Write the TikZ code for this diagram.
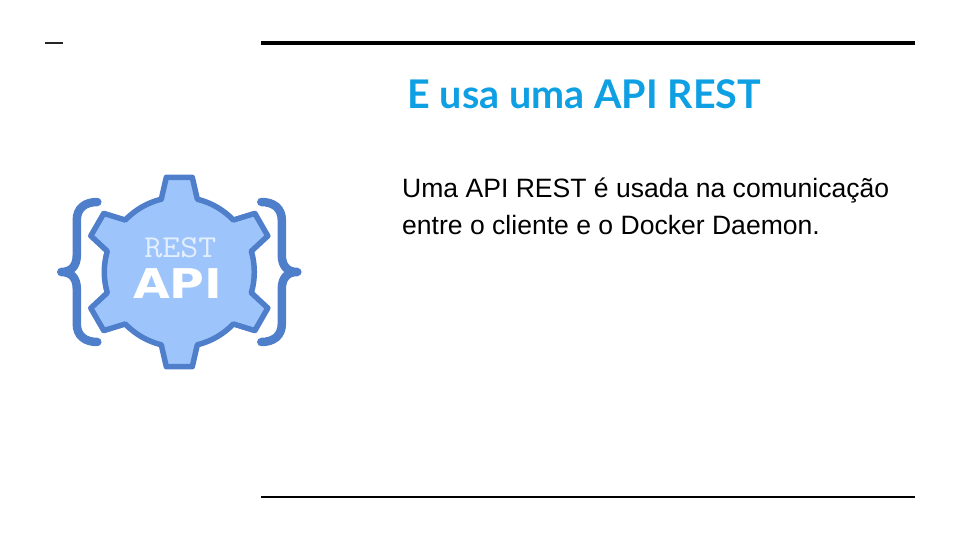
\documentclass[tikz,border=0pt]{standalone}
\usepackage{fontspec}
\setmainfont{Liberation Sans}
\newfontfamily\titlefont{Lato}
\newfontfamily\apifont{DejaVu Sans}
\usepackage{xcolor}
\usetikzlibrary{positioning}
\definecolor{titleblue}{HTML}{0F9FE3}
\definecolor{gearfill}{HTML}{9DC5FB}
\definecolor{gearline}{HTML}{4F7FCB}
\definecolor{restwhite}{HTML}{E3EEFE}

\begin{document}
\begin{tikzpicture}[
    x=1pt,y=1pt,
    thickrule/.style={draw=black, line width=4pt},
    thinrule/.style={draw=black, line width=2pt},
    dashrule/.style={draw=black!85, line width=1.5pt},
    gear/.style={draw=gearline, fill=gearfill, line width=5.5pt, line join=round},
    brace/.style={draw=gearline, line width=8.5pt, line cap=round, line join=round},
    title/.style={font=\titlefont\fontsize{39.5}{48}\selectfont\bfseries, text=titleblue, anchor=base west, inner sep=0pt},
    body/.style={font=\fontsize{26.55}{37}\selectfont, text=black, anchor=north west, align=left, inner sep=0pt},
    resttext/.style={font=\ttfamily\fontsize{32}{32}\selectfont, text=restwhite, inner sep=0pt, xscale=1.09, transform shape},
    apitext/.style={font=\apifont\fontsize{41}{41}\selectfont\bfseries, text=white, inner sep=0pt, xscale=1.16, transform shape}
]

% ===== page =====
\useasboundingbox (0,0) rectangle (960,-540);

% ===== rules =====
\draw[dashrule] (45,-43) -- (63,-43);
\draw[thickrule] (261,-43) -- (915,-43);
\draw[thinrule] (261,-497) -- (915,-497);

% ===== texts =====
\node[title] (heading) at (407.5,-108.5) {E usa uma API REST};
\node[body] (bodytext) at (402,-178) {Uma API REST é usada na comunicação\\entre o cliente e o Docker Daemon.};

% ===== gear =====
\def\gearx{179.3}
\def\geary{-272}
\def\rbase{75}
\def\rtip{95.6}
\draw[gear, shift={(\gearx,\geary)}] (103.9:\rbase)
  \foreach \a in {90,30,-30,-90,-150,-210} {
    -- (\a+7.8:\rtip) -- (\a-7.8:\rtip) -- (\a-13.9:\rbase)
    arc[start angle=\a-13.9, delta angle=-32.2, radius=\rbase]
  } -- cycle;

% braces
\foreach \s in {1,-1} {
  \draw[brace, shift={(\gearx,\geary)}, xscale=\s]
    (-82,70) .. controls (-94,70) and (-102.5,64) .. (-102.5,52)
    -- (-102.5,17) .. controls (-102.5,6) and (-108,0) .. (-118,0)
    .. controls (-108,0) and (-102.5,-6) .. (-102.5,-17)
    -- (-102.5,-52) .. controls (-102.5,-64) and (-94,-70) .. (-82,-70);
}

% logo labels
\node[resttext] (rest) at (\gearx+1,-248) {REST};
\node[apitext] (api) at (\gearx-1.5,-284) {API};
\end{tikzpicture}
\end{document}
